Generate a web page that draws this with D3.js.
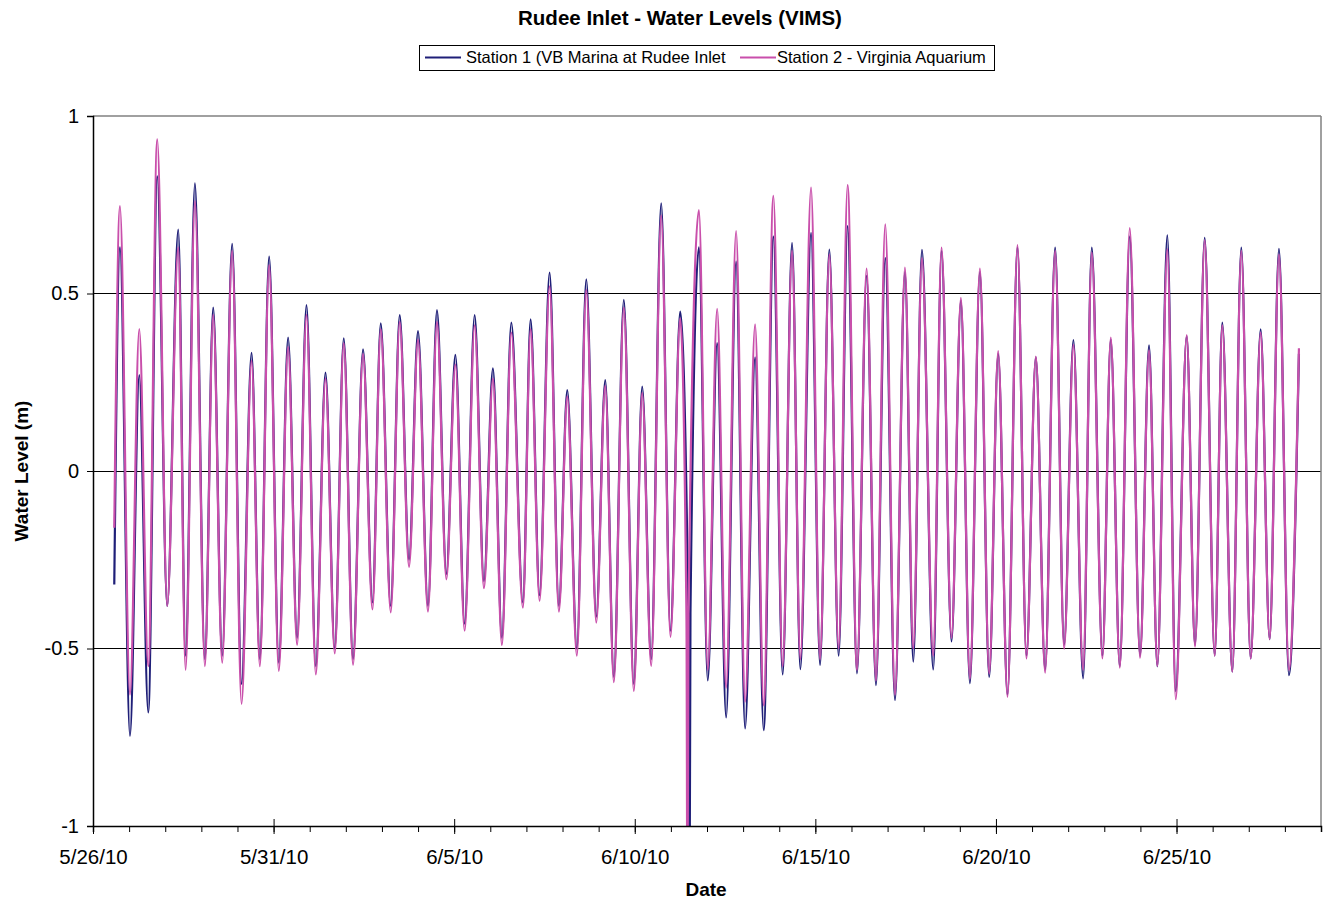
<!DOCTYPE html>
<html>
<head>
<meta charset="utf-8">
<script src="https://cdn.jsdelivr.net/npm/d3@7/dist/d3.min.js"></script>
<style>
  html, body { margin: 0; padding: 0; background: #ffffff; }
  svg { display: block; font-family: "Liberation Sans", Arial, sans-serif; }
</style>
</head>
<body>
<svg id="chart" width="1324" height="900"></svg>
<script>
// ---------------- DATA (times in days since 5/26/10 00:00) ----------------
const seriesNames = ["Station 1 (VB Marina at Rudee Inlet", "Station 2 - Virginia Aquarium"];

const startTime = 0.589, startS1 = -0.32, startS2 = -0.16;
const endTime = 33.389, endS1 = 0.33, endS2 = 0.346;

const highTimes = [0.747,1.281,1.779,2.360,2.822,3.328,3.853,4.390,4.877,5.402,5.911,6.437,6.943,7.477,7.967,8.492,8.999,9.524,10.033,10.567,11.073,11.582,12.116,12.642,13.131,13.657,14.183,14.697,15.206,15.732,16.257,16.777,17.281,17.806,18.332,18.838,19.355,19.881,20.387,20.893,21.419,21.936,22.481,22.952,23.494,24.030,24.556,25.062,25.596,26.105,26.639,27.145,27.654,28.180,28.705,29.239,29.745,30.282,30.780,31.267,31.793,32.329,32.836];
const highS1 = [0.63,0.27,0.83,0.68,0.81,0.46,0.64,0.333,0.604,0.376,0.467,0.277,0.374,0.343,0.416,0.439,0.394,0.453,0.327,0.439,0.289,0.418,0.427,0.559,0.228,0.54,0.256,0.482,0.238,0.754,0.449,0.63,0.36,0.59,0.32,0.66,0.643,0.67,0.624,0.69,0.55,0.60,0.56,0.623,0.62,0.48,0.56,0.33,0.63,0.32,0.629,0.369,0.629,0.37,0.66,0.354,0.664,0.38,0.657,0.418,0.629,0.399,0.626];
const highS2 = [0.746,0.40,0.934,0.63,0.76,0.44,0.62,0.31,0.58,0.35,0.44,0.26,0.36,0.33,0.40,0.42,0.37,0.42,0.30,0.41,0.26,0.39,0.40,0.52,0.21,0.51,0.24,0.46,0.22,0.72,0.43,0.735,0.457,0.676,0.413,0.775,0.62,0.798,0.61,0.805,0.57,0.695,0.573,0.60,0.629,0.488,0.57,0.338,0.636,0.322,0.62,0.355,0.615,0.376,0.684,0.34,0.625,0.383,0.65,0.41,0.62,0.39,0.61];

const lowTimes = [1.024,1.530,2.055,2.564,3.098,3.577,4.113,4.620,5.145,5.651,6.169,6.694,7.200,7.737,8.243,8.750,9.275,9.784,10.290,10.824,11.322,11.903,12.365,12.899,13.397,13.934,14.421,14.974,15.455,15.989,17.021,17.530,18.055,18.570,19.095,19.585,20.130,20.645,21.153,21.679,22.205,22.711,23.264,23.770,24.279,24.813,25.320,25.845,26.362,26.888,27.414,27.948,28.429,28.990,29.469,29.978,30.512,31.057,31.544,32.053,32.578,33.112];
const lowS1 = [-0.746,-0.68,-0.38,-0.52,-0.53,-0.52,-0.60,-0.53,-0.54,-0.47,-0.55,-0.50,-0.53,-0.37,-0.38,-0.25,-0.38,-0.29,-0.43,-0.31,-0.47,-0.37,-0.35,-0.38,-0.50,-0.41,-0.58,-0.60,-0.53,-0.45,-0.59,-0.694,-0.725,-0.73,-0.573,-0.558,-0.546,-0.52,-0.57,-0.603,-0.645,-0.537,-0.559,-0.48,-0.598,-0.58,-0.63,-0.52,-0.56,-0.49,-0.584,-0.52,-0.55,-0.52,-0.55,-0.62,-0.49,-0.52,-0.565,-0.528,-0.474,-0.575];
const lowS2 = [-0.63,-0.55,-0.38,-0.56,-0.55,-0.54,-0.656,-0.55,-0.563,-0.49,-0.573,-0.514,-0.546,-0.39,-0.398,-0.27,-0.396,-0.305,-0.45,-0.33,-0.49,-0.385,-0.366,-0.396,-0.52,-0.427,-0.595,-0.62,-0.549,-0.467,-0.56,-0.61,-0.65,-0.66,-0.55,-0.53,-0.53,-0.50,-0.56,-0.59,-0.63,-0.50,-0.52,-0.47,-0.585,-0.57,-0.636,-0.528,-0.568,-0.501,-0.56,-0.528,-0.554,-0.526,-0.549,-0.643,-0.495,-0.52,-0.565,-0.528,-0.474,-0.56];

// sensor glitch on 6/11 (drops below the axis minimum)
const spikeTimesS1 = [16.487, 16.515, 16.542];
const spikeS1 = [-0.45, -1.3, -0.40];
const spikeTimesS2 = [16.432, 16.459, 16.487];
const spikeS2 = [-0.42, -1.3, -0.40];

const yTicks = [-1, -0.5, 0, 0.5, 1];
const yTickLabels = ["-1", "-0.5", "0", "0.5", "1"];
const xMajorDates = ["2010-05-26", "2010-05-31", "2010-06-05", "2010-06-10", "2010-06-15", "2010-06-20", "2010-06-25"];
const xMajorLabels = ["5/26/10", "5/31/10", "6/5/10", "6/10/10", "6/15/10", "6/20/10", "6/25/10"];
const colors = ["#1f1f78", "#c94fab"];

// ---------------- BUILD ----------------
const origin = new Date(2010, 4, 26, 0, 0, 0);
const toDate = d => new Date(origin.getTime() + d * 864e5);
const parseDay = s => { const [y, m, d] = s.split("-").map(Number); return new Date(y, m - 1, d); };

function buildSeries(st, sv, ht, hv, lt, lv, spt, spv, et, ev) {
  const pts = [{t: st, v: sv}, {t: et, v: ev}];
  ht.forEach((t, i) => pts.push({t, v: hv[i]}));
  lt.forEach((t, i) => pts.push({t, v: lv[i]}));
  spt.forEach((t, i) => pts.push({t, v: spv[i]}));
  pts.sort((a, b) => a.t - b.t);
  return pts.map(p => ({date: toDate(p.t), v: p.v}));
}
const s1 = buildSeries(startTime, startS1, highTimes, highS1, lowTimes, lowS1, spikeTimesS1, spikeS1, endTime, endS1);
const s2 = buildSeries(startTime, startS2, highTimes, highS2, lowTimes, lowS2, spikeTimesS2, spikeS2, endTime, endS2);

const L = 93, R = 1321, T = 116, B = 826;
const svg = d3.select("#chart");

const x = d3.scaleTime().domain([origin, new Date(2010, 5, 29)]).range([L, R]);
const y = d3.scaleLinear().domain([-1, 1]).range([B, T]);

// gridlines
svg.append("g").selectAll("line").data(yTicks.filter(v => v > -1 && v < 1)).join("line")
  .attr("x1", L).attr("x2", R).attr("y1", d => y(d)).attr("y2", d => y(d))
  .attr("stroke", "#000").attr("stroke-width", 1).attr("shape-rendering", "crispEdges");

// clip
svg.append("clipPath").attr("id", "plotclip").append("rect")
  .attr("x", L).attr("y", T).attr("width", R - L).attr("height", B - T);

const line = d3.line().x(d => x(d.date)).y(d => y(d.v)).curve(d3.curveMonotoneX);
const g = svg.append("g").attr("clip-path", "url(#plotclip)");
g.append("path").datum(s1).attr("d", line).attr("fill", "none")
  .attr("stroke", colors[0]).attr("stroke-width", 2.2).attr("stroke-linejoin", "round");
g.append("path").datum(s2).attr("d", line).attr("fill", "none")
  .attr("stroke", colors[1]).attr("stroke-width", 2.2).attr("stroke-linejoin", "round");

// plot border (top/right grey)
svg.append("line").attr("x1", L).attr("x2", R).attr("y1", T).attr("y2", T)
  .attr("stroke", "#808080").attr("stroke-width", 1.5);
svg.append("line").attr("x1", R).attr("x2", R).attr("y1", T).attr("y2", B)
  .attr("stroke", "#808080").attr("stroke-width", 1.5);

// Y axis
const yAxis = d3.axisLeft(y).tickValues(yTicks).tickSize(6).tickPadding(8)
  .tickFormat((d, i) => yTickLabels[i]);
const ya = svg.append("g").attr("transform", `translate(${L},0)`).call(yAxis);
ya.select(".domain").attr("stroke", "#000").attr("stroke-width", 1.5);
ya.selectAll(".tick line").attr("stroke", "#000");
ya.selectAll("text").attr("font-size", 20).attr("font-family", "Liberation Sans, Arial, sans-serif").attr("fill", "#000");

// X axis: minor daily ticks (outside), major ticks crossing
const xMinor = d3.axisBottom(x).ticks(d3.timeDay.every(1)).tickSize(6).tickFormat("");
const xm = svg.append("g").attr("transform", `translate(0,${B})`).call(xMinor);
xm.select(".domain").attr("stroke", "#000").attr("stroke-width", 1.5);
xm.selectAll(".tick line").attr("stroke", "#000");

const majorDates = xMajorDates.map(parseDay);
const xMajor = d3.axisBottom(x).tickValues(majorDates).tickSize(8).tickPadding(15)
  .tickFormat((d, i) => xMajorLabels[i]);
const xM = svg.append("g").attr("transform", `translate(0,${B})`).call(xMajor);
xM.select(".domain").remove();
xM.selectAll(".tick line").attr("y1", -7).attr("stroke", "#000");
xM.selectAll("text").attr("font-size", 20.5).attr("font-family", "Liberation Sans, Arial, sans-serif").attr("fill", "#000");

// Titles
svg.append("text").attr("x", 680).attr("y", 25).attr("text-anchor", "middle")
  .attr("font-size", 20.5).attr("font-weight", "bold").text("Rudee Inlet - Water Levels (VIMS)");
svg.append("text").attr("x", 706).attr("y", 896).attr("text-anchor", "middle")
  .attr("font-size", 19).attr("font-weight", "bold").text("Date");
svg.append("text").attr("transform", "translate(28,471) rotate(-90)").attr("text-anchor", "middle")
  .attr("font-size", 19).attr("font-weight", "bold").text("Water Level (m)");

// Legend
const lg = svg.append("g");
lg.append("rect").attr("x", 419.5).attr("y", 45.5).attr("width", 575).attr("height", 25)
  .attr("fill", "#fff").attr("stroke", "#000").attr("stroke-width", 1);
const legendItems = [
  {x: 425, tx: 466, c: colors[0], name: seriesNames[0]},
  {x: 740, tx: 777, c: colors[1], name: seriesNames[1]}
];
legendItems.forEach(it => {
  lg.append("line").attr("x1", it.x).attr("x2", it.x + 36).attr("y1", 57.5).attr("y2", 57.5)
    .attr("stroke", it.c).attr("stroke-width", 2);
  lg.append("text").attr("x", it.tx).attr("y", 63).attr("font-size", 16.5).text(it.name);
});
</script>
</body>
</html>
